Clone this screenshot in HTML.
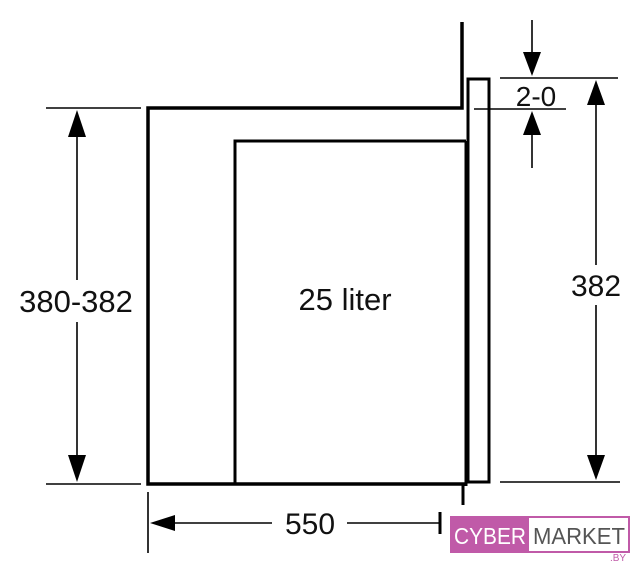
<!DOCTYPE html>
<html><head><style>
body{margin:0;background:#fff;width:640px;height:575px;overflow:hidden}
svg{display:block}
text{font-family:"Liberation Sans",sans-serif;fill:#111}
</style></head><body>
<svg width="640" height="575" viewBox="0 0 640 575">
<g stroke="#000" fill="none">
<polyline points="462,22 462,108 148,108 148,484 466,484" stroke-width="3.5"/>
<polyline points="235,484 235,141 466,141" stroke-width="3"/>
<rect x="468" y="79" width="21" height="403" stroke-width="3"/>
<line x1="466" y1="141" x2="466" y2="486" stroke-width="3"/>
<line x1="463" y1="484" x2="463" y2="505" stroke-width="3"/>
<g stroke-width="1.6">
<line x1="46" y1="108" x2="141" y2="108"/>
<line x1="46" y1="484" x2="141" y2="484"/>
<line x1="77" y1="130" x2="77" y2="280"/>
<line x1="77" y1="322" x2="77" y2="462"/>
<line x1="500" y1="78" x2="618" y2="78"/>
<line x1="474" y1="109" x2="566" y2="109"/>
<line x1="532" y1="20" x2="532" y2="60"/>
<line x1="532" y1="128" x2="532" y2="168"/>
<line x1="596" y1="100" x2="596" y2="265"/>
<line x1="596" y1="305" x2="596" y2="462"/>
<line x1="500" y1="482" x2="620" y2="482"/>
<line x1="148" y1="492" x2="148" y2="553"/>
<line x1="168" y1="523" x2="272" y2="523"/>
<line x1="347" y1="523" x2="440" y2="523"/>
<line x1="440" y1="512" x2="440" y2="534" stroke-width="3"/>
</g>
</g>
<g fill="#000">
<polygon points="77,110 68,137 86,137"/>
<polygon points="77,482 68,455 86,455"/>
<polygon points="532,76 523,52 541,52"/>
<polygon points="532,111 523,135 541,135"/>
<polygon points="596,80 587,105 605,105"/>
<polygon points="596,480 587,455 605,455"/>
<polygon points="150,523 175,515 175,531"/>
</g>
<text x="76" y="312" font-size="31" text-anchor="middle">380-382</text>
<text x="345" y="310" font-size="31" text-anchor="middle">25 liter</text>
<text x="596" y="296" font-size="30" text-anchor="middle">382</text>
<text x="536" y="106" font-size="28" text-anchor="middle">2-0</text>
<text x="310" y="534" font-size="30" text-anchor="middle">550</text>
<rect x="451" y="517" width="178" height="35" fill="#fff" stroke="#c05aa8" stroke-width="2"/>
<rect x="451" y="517" width="78" height="35" fill="#c05aa8"/>
<text x="490" y="544" font-size="23" text-anchor="middle" textLength="72" lengthAdjust="spacingAndGlyphs" style="fill:#fff">CYBER</text>
<text x="579" y="544" font-size="23" text-anchor="middle" textLength="92" lengthAdjust="spacingAndGlyphs" style="fill:#555">MARKET</text>
<text x="618" y="561" font-size="10" text-anchor="middle" style="fill:#c05aa8">.BY</text>
</svg>
</body></html>
